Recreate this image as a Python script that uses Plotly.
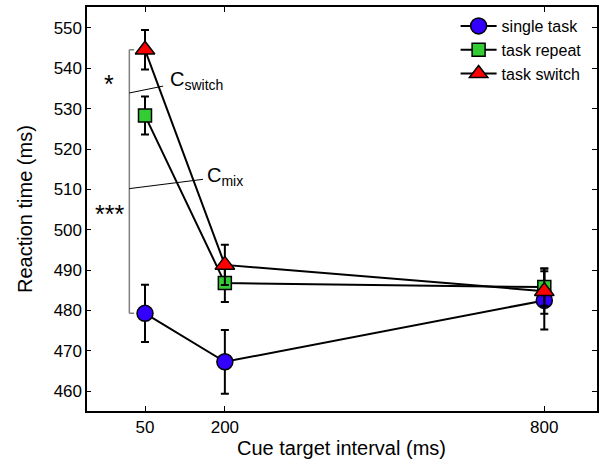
import plotly.graph_objects as go

intervals = [50, 200, 800]
single_task = [479.3, 467.3, 482.5]
single_err = [7.1, 7.9, 7.2]
task_repeat = [528.3, 486.8, 485.8]
repeat_err = [4.7, 4.7, 4.6]
task_switch = [544.6, 491.3, 484.8]
switch_err = [4.9, 5.0, 5.6]

FONT = "Liberation Sans, Arial, sans-serif"

ML, MR = 77, 5
PW = 602 - ML - MR          # paper width in px
X_DOMAIN0 = (86.7 - ML) / PW  # plot frame starts here

fig = go.Figure()

def add(name, y, err, symbol, color, size):
    fig.add_trace(go.Scatter(
        x=intervals, y=y, name=name, mode="lines+markers",
        line=dict(color="black", width=2),
        marker=dict(symbol=symbol, color=color, size=size,
                    line=dict(color="black", width=1.5)),
        error_y=dict(type="data", array=err, color="black", thickness=2, width=4),
    ))

add("single task", single_task, single_err, "circle", "#3300ff", 16)
add("task repeat", task_repeat, repeat_err, "square", "#33cc33", 13)
add("task switch", task_switch, switch_err, "triangle-up", "#ff0000", 17)

# empty helper trace so the label-only y axis is drawn
fig.add_trace(go.Scatter(x=[], y=[], yaxis="y2", showlegend=False, hoverinfo="skip"))

# significance bracket and labels
bx = 20.6
fig.add_shape(type="line", x0=bx, x1=bx, y0=task_switch[0], y1=single_task[0],
              line=dict(color="#808080", width=1.5))
fig.add_shape(type="line", x0=bx, x1=bx + 9, y0=task_switch[0], y1=task_switch[0],
              line=dict(color="#808080", width=1.5))
fig.add_shape(type="line", x0=bx, x1=bx + 9, y0=single_task[0], y1=single_task[0],
              line=dict(color="#808080", width=1.5))
fig.add_shape(type="line", x0=bx, x1=84, y0=533.9, y1=535.6,
              line=dict(color="black", width=1))
fig.add_shape(type="line", x0=bx, x1=159, y0=510.2, y1=512.5,
              line=dict(color="black", width=1))

fig.add_annotation(x=94, y=536.9, text="C<sub>switch</sub>", showarrow=False,
                   xanchor="left", yanchor="middle", font=dict(size=20, color="black", family=FONT))
fig.add_annotation(x=163, y=513.3, text="C<sub>mix</sub>", showarrow=False,
                   xanchor="left", yanchor="middle", font=dict(size=20, color="black", family=FONT))
fig.add_annotation(x=-17.5, y=536.0, text="*", showarrow=False,
                   font=dict(size=25, color="black", family=FONT))
fig.add_annotation(x=-17.5, y=504.0, text="***", showarrow=False,
                   font=dict(size=25, color="black", family=FONT))

# axis titles
fig.add_annotation(xref="paper", yref="paper", x=(341 - ML) / PW, y=0, yanchor="middle", yshift=-37,
                   text="Cue target interval (ms)", showarrow=False,
                   font=dict(size=20, color="black", family=FONT))
fig.add_annotation(xref="paper", yref="paper", x=0, y=0.5, xanchor="center", xshift=25 - ML,
                   text="Reaction time (ms)", textangle=-90, showarrow=False,
                   font=dict(size=20, color="black", family=FONT))

axis_common = dict(
    showgrid=False, zeroline=False, showline=True, linecolor="black", linewidth=1.5,
    mirror="ticks", ticks="inside", ticklen=5, tickwidth=1, tickcolor="black",
    tickfont=dict(size=17, color="black", family=FONT), automargin=False,
)

y_range = [455.1, 555.2]
fig.update_xaxes(range=[-59.5, 899], tickvals=intervals, ticktext=[str(v) for v in intervals],
                 domain=[X_DOMAIN0, 1], **axis_common)
fig.update_layout(yaxis=dict(range=y_range, dtick=10, showticklabels=False, **axis_common))

fig.update_layout(
    width=602, height=459,
    margin=dict(l=ML, r=MR, t=7, b=48, autoexpand=False),
    paper_bgcolor="white", plot_bgcolor="white",
    font=dict(family=FONT, color="black"),
    showlegend=True,
    # label-only axis, placed so tick labels sit close to the frame
    yaxis2=dict(overlaying="y", anchor="free", position=(82 - ML) / PW, side="left",
                range=y_range, dtick=10, showline=False, ticks="", showgrid=False, zeroline=False,
                tickfont=dict(size=17, color="black", family=FONT), automargin=False),
    legend=dict(x=(455.6 - ML) / PW, y=0.995, xanchor="left", yanchor="top",
                bgcolor="rgba(0,0,0,0)", borderwidth=0,
                font=dict(size=16, color="black", family=FONT),
                tracegroupgap=0, itemsizing="trace", itemwidth=36),
)

fig.write_html("out.html", config={"displayModeBar": False},
               post_script="document.body.style.margin='0';document.body.style.overflow='hidden';")
